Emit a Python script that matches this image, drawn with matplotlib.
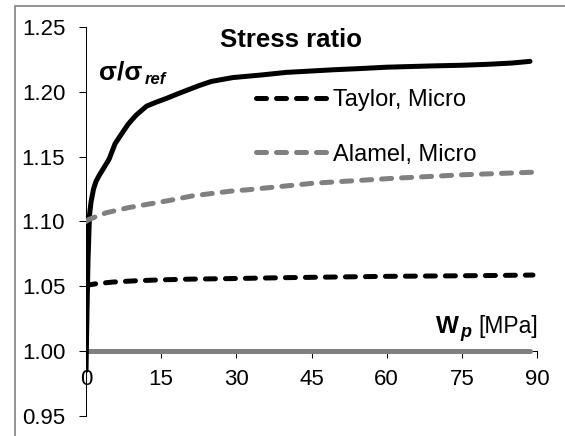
import matplotlib
matplotlib.use('Agg')
import matplotlib.pyplot as plt
from matplotlib.patches import Rectangle

plt.rcParams['font.family'] = ['Liberation Sans', 'DejaVu Sans']
plt.rcParams['lines.scale_dashes'] = False

# Stress ratio sigma/sigma_ref versus plastic work W_p [MPa]
wp_total = [0, 0.2, 0.4, 0.7, 1.0, 1.5, 2.0, 2.7, 3.5, 4.6, 5.8, 7.0, 8.4, 10.0,
            12.1, 14.0, 16.1, 18.0, 20.0, 22.7, 25.0, 29.3, 35.0, 40.0, 49.3,
            55.0, 60.0, 69.2, 75.0, 80.0, 85.0, 88.6]
ratio_total = [0.985, 1.03, 1.07, 1.105, 1.115, 1.125, 1.131, 1.136, 1.141, 1.148,
               1.160, 1.167, 1.175, 1.182, 1.189, 1.192, 1.195, 1.198, 1.201,
               1.205, 1.208, 1.211, 1.213, 1.215, 1.217, 1.218, 1.219, 1.2200,
               1.2205, 1.2212, 1.2222, 1.2235]

wp_taylor = [0, 0.5, 2.0, 5.4, 10.0, 15.0, 20.0, 29.3, 40.0, 50.0, 60.0, 70.0, 80.0, 89.2]
ratio_taylor = [1.050, 1.051, 1.052, 1.0533, 1.0543, 1.055, 1.0555, 1.056, 1.0567,
                1.0572, 1.0577, 1.058, 1.0583, 1.0587]

wp_alamel = [0, 0.5, 4.0, 8.6, 16.6, 21.3, 29.3, 32.1, 45.3, 61.3, 75.0, 89.2]
ratio_alamel = [1.100, 1.1015, 1.1067, 1.1108, 1.1162, 1.1198, 1.1236, 1.1244,
                1.1295, 1.1333, 1.136, 1.138]

wp_ref = [0, 88.6]
ratio_ref = [1.0, 1.0]

x_ticks = [0, 15, 30, 45, 60, 75, 90]
y_ticks = [0.95, 1.00, 1.05, 1.10, 1.15, 1.20, 1.25]
y_ticklabels = ['0.95', '1.00', '1.05', '1.10', '1.15', '1.20', '1.25']
legend_labels = ['Taylor, Micro', 'Alamel, Micro']

W, H = 565, 436


def fx(px):
    return px / W


def fy(py):
    return 1 - py / H


fig = plt.figure(figsize=(W / 100, H / 100), dpi=100)
ax = fig.add_axes([fx(86), fy(416), fx(537) - fx(86), fy(27) - fy(416)])

gray = '#808080'
lw = 3.6
ax.plot(wp_ref, ratio_ref, color=gray, lw=lw, solid_capstyle='round', zorder=3)
ax.plot(wp_total, ratio_total, color='black', lw=lw, solid_capstyle='round',
        solid_joinstyle='round', zorder=3.5)
taylor_line, = ax.plot(wp_taylor, ratio_taylor, color='black', lw=lw,
                       ls=(0, (7.2, 7.2)), dash_capstyle='round', zorder=4)
alamel_line, = ax.plot(wp_alamel, ratio_alamel, color=gray, lw=lw,
                       ls=(0, (7.2, 7.2)), dash_capstyle='round', zorder=4)

ax.set_xlim(0, 90)
ax.set_ylim(0.95, 1.25)
ax.spines['top'].set_visible(False)
ax.spines['right'].set_visible(False)
ax.spines['bottom'].set_position(('data', 1.0))
for side in ('left', 'bottom'):
    ax.spines[side].set_linewidth(0.75)
ax.set_xticks(x_ticks)
ax.set_yticks(y_ticks)
ax.set_yticklabels(y_ticklabels)
ax.tick_params(direction='out', length=5, width=0.75, labelsize=16)
ax.tick_params(axis='x', pad=8)
ax.tick_params(axis='y', pad=10)

ax.legend([taylor_line, alamel_line], legend_labels, loc='upper left',
          bbox_to_anchor=(fx(256), fy(89)), bbox_transform=fig.transFigure,
          frameon=False, fontsize=17, handlelength=3.0, handletextpad=0.28,
          labelspacing=1.38, borderpad=0, borderaxespad=0)

# titles and axis labels
fig.text(fx(220), fy(47), 'Stress ratio', fontsize=18.5, fontweight='bold', va='baseline')
fig.text(fx(99), fy(80), 'σ/σ', fontsize=19, fontweight='bold', va='baseline')
fig.text(fx(145), fy(84), 'ref', fontsize=12, fontweight='bold', style='italic',
         va='baseline')
fig.text(fx(436), fy(333), 'W', fontsize=17.5, fontweight='bold', va='baseline')
fig.text(fx(460), fy(337), 'p', fontsize=13, fontweight='bold', style='italic',
         va='baseline')
fig.text(fx(478), fy(333), '[MPa]', fontsize=16.5, va='baseline')

# outer frame
fig.add_artist(Rectangle((fx(15), fy(600)), 2, fy(6) - fy(600),
                         transform=fig.transFigure, fill=False,
                         edgecolor=gray, lw=1.2))

fig.savefig('out.png', dpi=100)
